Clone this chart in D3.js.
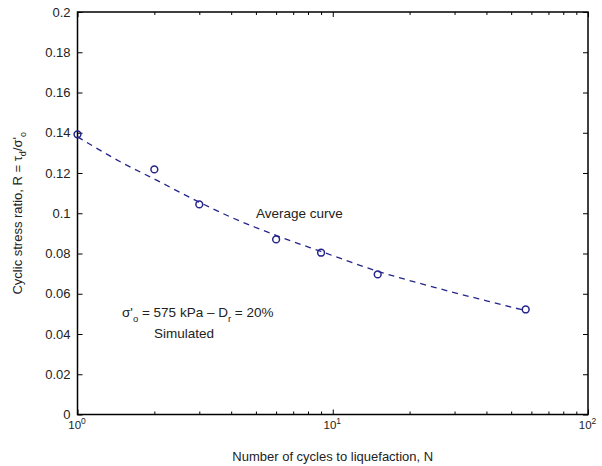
<!DOCTYPE html>
<html>
<head>
<meta charset="utf-8">
<script src="https://cdn.jsdelivr.net/npm/d3@7"></script>
<style>
  body { margin: 0; background: #fff; }
  svg { display: block; font-family: "Liberation Sans", Arial, sans-serif; }
  .axis path { display: none; }
  .axis line { stroke: #000; stroke-width: 1; }
  .axis text { fill: #222; font-size: 13px; }
</style>
</head>
<body>
<svg id="chart" width="602" height="466"></svg>
<script>
// simulated points
var cycles = [1, 2, 3, 6, 9, 15, 57];
var ratio = [0.1392, 0.1218, 0.1044, 0.087, 0.0804, 0.0696, 0.0522];

// average curve
var curveN = [1, 1.5, 2, 3, 4, 6, 9, 15, 25, 40, 57];
var curveR = [0.138, 0.125, 0.117, 0.1055, 0.098, 0.089, 0.081, 0.0712, 0.0632, 0.0565, 0.0516];

var yTicks = [0, 0.02, 0.04, 0.06, 0.08, 0.1, 0.12, 0.14, 0.16, 0.18, 0.2];
var yTickLabels = ["0", "0.02", "0.04", "0.06", "0.08", "0.1", "0.12", "0.14", "0.16", "0.18", "0.2"];
var xMajor = [1, 10, 100];
var xMajorExp = ["0", "1", "2"];
var xMinor = [2, 3, 4, 5, 6, 7, 8, 9, 20, 30, 40, 50, 60, 70, 80, 90];

var svg = d3.select("#chart");
var plotL = 77.5, plotR = 588, plotT = 12, plotB = 414.5;

var x = d3.scaleLog().domain([1, 100]).range([plotL, plotR]);
var y = d3.scaleLinear().domain([0, 0.2]).range([plotB, plotT]);
var navy = "#24248c";

// ticks, inward on all four sides
svg.append("g").attr("class", "axis")
    .attr("transform", "translate(" + plotL + ",0)")
    .call(d3.axisLeft(y).tickValues(yTicks).tickSize(-5).tickPadding(7)
        .tickFormat(function(d, i) { return yTickLabels[i]; }));
svg.append("g").attr("class", "axis")
    .attr("transform", "translate(" + plotR + ",0)")
    .call(d3.axisRight(y).tickValues(yTicks).tickSize(-5).tickFormat(""));

svg.append("g").attr("class", "axis")
    .attr("transform", "translate(0," + plotB + ")")
    .call(d3.axisBottom(x).tickValues(xMinor).tickSize(-3).tickFormat(""));
svg.append("g").attr("class", "axis")
    .attr("transform", "translate(0," + plotT + ")")
    .call(d3.axisTop(x).tickValues(xMinor).tickSize(-3).tickFormat(""));
svg.append("g").attr("class", "axis")
    .attr("transform", "translate(0," + plotT + ")")
    .call(d3.axisTop(x).tickValues(xMajor).tickSize(-5).tickFormat(""));

var xAxis = svg.append("g").attr("class", "axis")
    .attr("transform", "translate(0," + plotB + ")")
    .call(d3.axisBottom(x).tickValues(xMajor).tickSize(-5).tickFormat(""));

// 10^n labels
xAxis.selectAll(".tick").each(function(d, i) {
    var t = d3.select(this).select("text")
        .attr("y", 0).attr("dy", null)
        .attr("text-anchor", "middle")
        .attr("transform", "translate(-1,14)");
    t.append("tspan").attr("font-size", "11.5px").text("10");
    t.append("tspan").attr("font-size", "8.5px").attr("dy", -5).text(xMajorExp[i]);
});

// frame
svg.append("rect")
    .attr("x", plotL).attr("y", plotT)
    .attr("width", plotR - plotL).attr("height", plotB - plotT)
    .attr("fill", "none").attr("stroke", "#000").attr("stroke-width", 1.5);

// dashed average curve
var line = d3.line()
    .x(function(d) { return x(d[0]); })
    .y(function(d) { return y(d[1]); })
    .curve(d3.curveMonotoneX);

svg.append("path")
    .datum(d3.zip(curveN, curveR))
    .attr("d", line)
    .attr("fill", "none")
    .attr("stroke", navy)
    .attr("stroke-width", 1.3)
    .attr("stroke-dasharray", "6,5");

// open circle markers
svg.selectAll("circle.pt").data(d3.zip(cycles, ratio)).enter()
    .append("circle")
    .attr("class", "pt")
    .attr("cx", function(d) { return x(d[0]); })
    .attr("cy", function(d) { return y(d[1]); })
    .attr("r", 3.4)
    .attr("fill", "none")
    .attr("stroke", navy)
    .attr("stroke-width", 1.5);

// annotations
svg.append("text")
    .attr("x", 256).attr("y", 218)
    .attr("font-size", "13.5px").attr("fill", "#222")
    .text("Average curve");

var a = svg.append("text")
    .attr("x", 122).attr("y", 317)
    .attr("font-size", "13.5px").attr("fill", "#222");
a.append("tspan").text("σ'");
a.append("tspan").attr("font-size", "9.5px").attr("dy", 5).text("o");
a.append("tspan").attr("dy", -5).text(" = 575 kPa – D");
a.append("tspan").attr("font-size", "9.5px").attr("dy", 5).text("r");
a.append("tspan").attr("dy", -5).text(" = 20%");

svg.append("text")
    .attr("x", 154).attr("y", 338)
    .attr("font-size", "13.5px").attr("fill", "#222")
    .text("Simulated");

// axis titles
svg.append("text")
    .attr("x", (plotL + plotR) / 2).attr("y", 461)
    .attr("text-anchor", "middle")
    .attr("font-size", "13px").attr("fill", "#222")
    .text("Number of cycles to liquefaction, N");

var yl = svg.append("text")
    .attr("transform", "translate(22," + ((plotT + plotB) / 2) + ") rotate(-90)")
    .attr("text-anchor", "middle")
    .attr("font-size", "13px").attr("fill", "#222");
yl.append("tspan").text("Cyclic stress ratio, R = τ");
yl.append("tspan").attr("font-size", "9px").attr("dy", 4).text("d");
yl.append("tspan").attr("dy", -4).text("/σ'");
yl.append("tspan").attr("font-size", "9px").attr("dy", 4).text("o");
</script>
</body>
</html>
